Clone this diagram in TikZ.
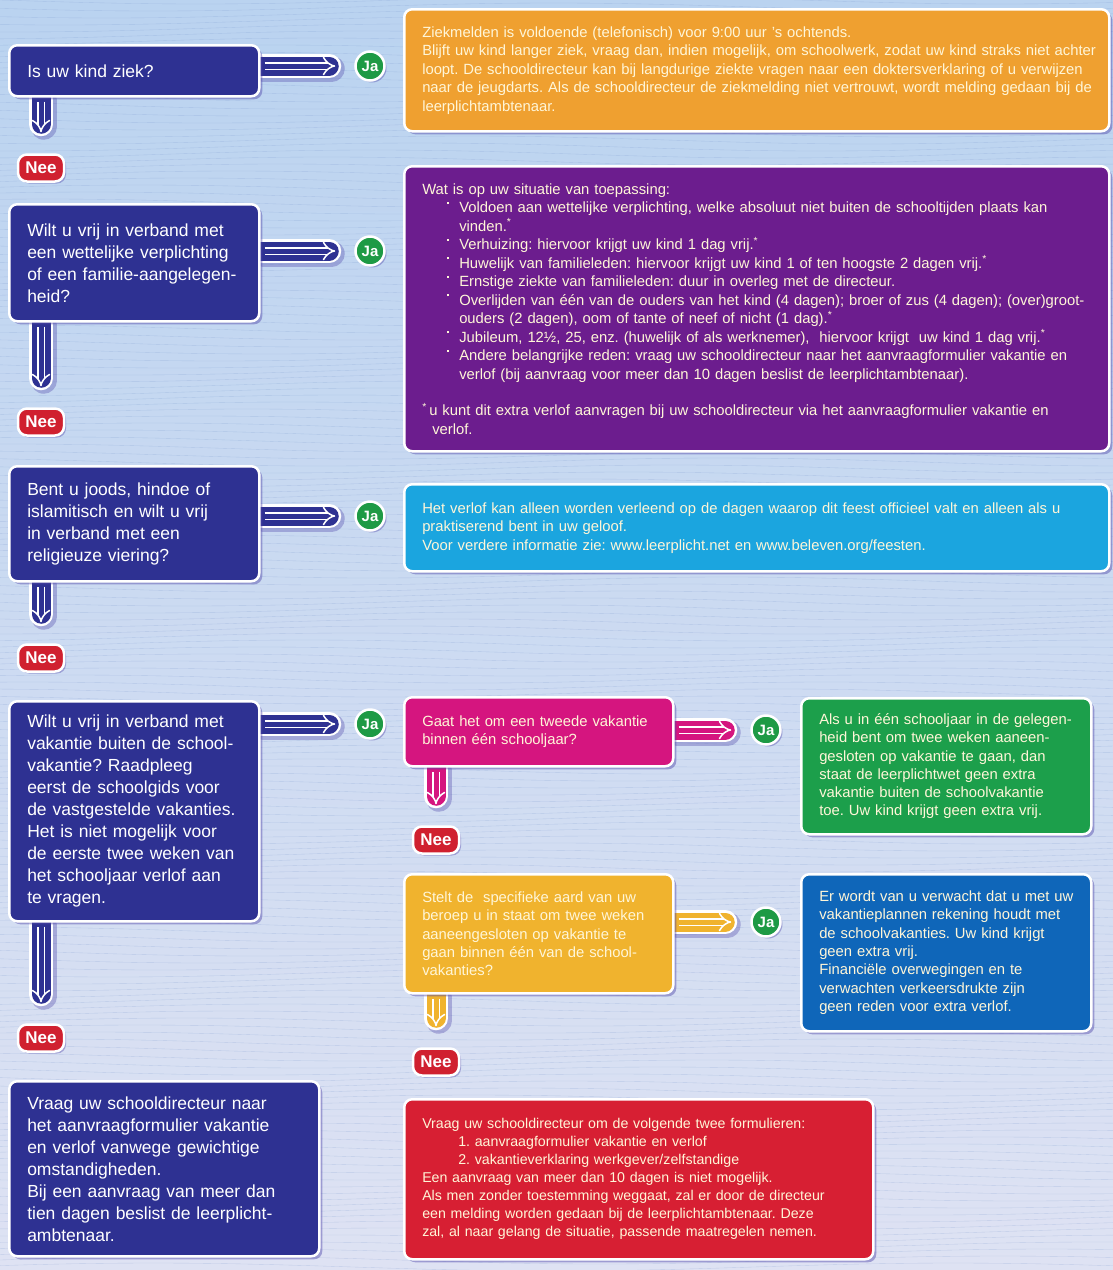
\documentclass[tikz,border=0pt]{standalone}
\usepackage{fontspec}
\setmainfont{Liberation Sans}
\usepackage{xcolor}
\usetikzlibrary{arrows.meta, calc, shadows}
\frenchspacing

\definecolor{bgtop}{RGB}{186,211,240}
\definecolor{bgbot}{RGB}{222,226,243}
\definecolor{bgline}{RGB}{120,150,205}
\definecolor{navyq}{RGB}{46,49,146}
\definecolor{oranjeq}{RGB}{239,160,48}
\definecolor{paarsq}{RGB}{108,29,142}
\definecolor{lichtblauwq}{RGB}{27,165,223}
\definecolor{rozeq}{RGB}{213,21,127}
\definecolor{groenq}{RGB}{28,159,75}
\definecolor{geelq}{RGB}{240,179,46}
\definecolor{blauwq}{RGB}{15,102,185}
\definecolor{roodq}{RGB}{215,31,51}
\definecolor{jagroen}{RGB}{30,154,69}
\definecolor{neerood}{RGB}{208,32,47}
\definecolor{tekstlicht}{RGB}{255,246,216}
\definecolor{schaduw}{RGB}{80,70,170}

\newcommand{\qfont}{\fontsize{17.5pt}{22pt}\selectfont}
\newcommand{\infofont}{\fontsize{14.8pt}{18.5pt}\selectfont}
\newcommand{\kaderfont}{\fontsize{14.8pt}{18.3pt}\selectfont}
\newcommand{\roodfont}{\fontsize{14.2pt}{18pt}\selectfont}
\newcommand{\stip}{\raisebox{1.1ex}{\rule{2.1pt}{2.1pt}}}

\pgfdeclarelayer{bg}
\pgfdeclarelayer{pipes}
\pgfsetlayers{bg,pipes,main}

\tikzset{
  kader/.style={draw=white, line width=2.5pt, rounded corners=8pt, anchor=north west,
    inner xsep=18pt, inner ysep=6pt, align=left,
    execute at begin node={\rightskip=-80pt plus 1fil\relax},
    drop shadow={shadow xshift=3pt, shadow yshift=-3pt, opacity=.45, fill=schaduw}},
  vraag/.style={kader, fill=navyq, text=white, font=\qfont},
  info/.style={kader, text=tekstlicht, font=\infofont},
  ja/.style={circle, draw=white, line width=2.5pt, fill=jagroen, text=white,
    minimum size=29pt, inner sep=0pt, font=\fontsize{15pt}{15pt}\selectfont\bfseries,
    drop shadow={shadow xshift=2pt, shadow yshift=-2pt, opacity=.4, fill=schaduw}},
  nee/.style={draw=white, line width=2.5pt, rounded corners=9pt, fill=neerood, text=white,
    minimum width=46pt, minimum height=27pt, inner sep=0pt,
    font=\fontsize{17pt}{17pt}\selectfont\bfseries,
    drop shadow={shadow xshift=2pt, shadow yshift=-2pt, opacity=.4, fill=schaduw}},
  pijp/.style={draw=white, line width=2.5pt, double=#1, double distance=19pt, line cap=round,
    preaction={draw=schaduw, opacity=.35, line width=26pt, line cap=round,
      transform canvas={shift={(2.5pt,-2.5pt)}}}},
  jaarrow/.style={draw=white, line width=1.5pt, double=#1, double distance=5pt, -{Implies}},
  golf/.style={bgline, line width=.35pt, opacity=.3}
}

\begin{document}
\begin{tikzpicture}[x=1pt, y=-1pt]
  \useasboundingbox (0,0) rectangle (1113,1270);
  \begin{pgfonlayer}{bg}
    \fill[top color=bgtop, bottom color=bgbot] (0,0) rectangle (1113,1270);
    \foreach \k in {0,7,...,1270}
      \draw[golf] plot[domain=0:1113, samples=30, smooth] (\x, {\k+4*sin(0.45*\x+3*\k)});
  \end{pgfonlayer}

  % vragen links
  \node[vraag, minimum width=250pt, minimum height=51pt, text width=214pt] (ziek) at (8,44)
    {Is uw kind ziek?};
  \node[vraag, minimum width=250pt, minimum height=117pt, text width=214pt] (wettelijk) at (8,203)
    {Wilt u vrij in verband met\\ een wettelijke verplichting\\ of een familie-aangelegen-\\ heid?};
  \node[vraag, minimum width=250pt, minimum height=115pt, text width=214pt] (religie) at (8,465)
    {Bent u joods, hindoe of\\ islamitisch en wilt u vrij\\ in verband met een\\ religieuze viering?};
  \node[vraag, minimum width=250pt, minimum height=220pt, text width=214pt] (vakantie) at (8,700)
    {Wilt u vrij in verband met\\ vakantie buiten de school-\\ vakantie? Raadpleeg\\ eerst de schoolgids voor\\
     de vastgestelde vakanties.\\ Het is niet mogelijk voor\\ de eerste twee weken van\\
     het schooljaar verlof aan\\ te vragen.};
  \node[vraag, minimum width=310pt, minimum height=175pt, text width=274pt] (aanvraag) at (8,1080)
    {Vraag uw schooldirecteur naar\\ het aanvraagformulier vakantie\\ en verlof vanwege gewichtige\\
     omstandigheden.\\ Bij een aanvraag van meer dan\\ tien dagen beslist de leerplicht-\\ ambtenaar.};

  % antwoorden rechts
  \node[info, fill=oranjeq, minimum width=705pt, minimum height=122pt, text width=669pt] (infoziek) at (403,8)
    {Ziekmelden is voldoende (telefonisch) voor 9:00 uur 's ochtends.\\
     Blijft uw kind langer ziek, vraag dan, indien mogelijk, om schoolwerk, zodat uw kind straks niet achter\\
     loopt. De schooldirecteur kan bij langdurige ziekte vragen naar een doktersverklaring of u verwijzen\\
     naar de jeugdarts. Als de schooldirecteur de ziekmelding niet vertrouwt, wordt melding gedaan bij de\\
     leerplichtambtenaar.};
  \node[info, fill=paarsq, minimum width=705pt, minimum height=285pt, text width=669pt] (infowet) at (403,165)
    {Wat is op uw situatie van toepassing:\\
     \hspace*{25pt}\makebox[12pt][l]{\stip}Voldoen aan wettelijke verplichting, welke absoluut niet buiten de schooltijden plaats kan\\
     \hspace*{37pt}vinden.\textsuperscript{*}\\
     \hspace*{25pt}\makebox[12pt][l]{\stip}Verhuizing: hiervoor krijgt uw kind 1 dag vrij.\textsuperscript{*}\\
     \hspace*{25pt}\makebox[12pt][l]{\stip}Huwelijk van familieleden: hiervoor krijgt uw kind 1 of ten hoogste 2 dagen vrij.\textsuperscript{*}\\
     \hspace*{25pt}\makebox[12pt][l]{\stip}Ernstige ziekte van familieleden: duur in overleg met de directeur.\\
     \hspace*{25pt}\makebox[12pt][l]{\stip}Overlijden van één van de ouders van het kind (4 dagen); broer of zus (4 dagen); (over)groot-\\
     \hspace*{37pt}ouders (2 dagen), oom of tante of neef of nicht (1 dag).\textsuperscript{*}\\
     \hspace*{25pt}\makebox[12pt][l]{\stip}Jubileum, 12½, 25, enz. (huwelijk of als werknemer),\ \ hiervoor krijgt\ \ uw kind 1 dag vrij.\textsuperscript{*}\\
     \hspace*{25pt}\makebox[12pt][l]{\stip}Andere belangrijke reden: vraag uw schooldirecteur naar het aanvraagformulier vakantie en\\
     \hspace*{37pt}verlof (bij aanvraag voor meer dan 10 dagen beslist de leerplichtambtenaar).\\[18pt]
     \textsuperscript{*}\,u kunt dit extra verlof aanvragen bij uw schooldirecteur via het aanvraagformulier vakantie en\\
     \hspace*{10pt}verlof.};
  \node[info, fill=lichtblauwq, minimum width=705pt, minimum height=87pt, text width=669pt] (inforeligie) at (403,483)
    {Het verlof kan alleen worden verleend op de dagen waarop dit feest officieel valt en alleen als u\\
     praktiserend bent in uw geloof.\\
     Voor verdere informatie zie: www.leerplicht.net en www.beleven.org/feesten.};
  \node[info, fill=rozeq, font=\kaderfont, minimum width=269pt, minimum height=69pt, text width=233pt] (tweede) at (403,696)
    {Gaat het om een tweede vakantie\\ binnen één schooljaar?};
  \node[info, fill=groenq, font=\kaderfont, minimum width=290pt, minimum height=136pt, text width=254pt] (geenextra) at (800,697)
    {Als u in één schooljaar in de gelegen-\\ heid bent om twee weken aaneen-\\ gesloten op vakantie te gaan, dan\\
     staat de leerplichtwet geen extra\\ vakantie buiten de schoolvakantie\\ toe. Uw kind krijgt geen extra vrij.};
  \node[info, fill=geelq, font=\kaderfont, minimum width=269pt, minimum height=119pt, text width=233pt] (beroep) at (403,873)
    {Stelt de\ \ specifieke aard van uw\\ beroep u in staat om twee weken\\ aaneengesloten op vakantie te\\
     gaan binnen één van de school-\\ vakanties?};
  \node[info, fill=blauwq, font=\kaderfont, minimum width=290pt, minimum height=157pt, text width=254pt] (rekening) at (800,873)
    {Er wordt van u verwacht dat u met uw\\ vakantieplannen rekening houdt met\\ de schoolvakanties. Uw kind krijgt\\
     geen extra vrij.\\ Financiële overwegingen en te\\ verwachten verkeersdrukte zijn\\ geen reden voor extra verlof.};
  \node[info, fill=roodq, font=\roodfont, minimum width=469pt, minimum height=160pt, text width=433pt] (formulieren) at (403,1098)
    {Vraag uw schooldirecteur om de volgende twee formulieren:\\
     \hspace*{36pt}1. aanvraagformulier vakantie en verlof\\
     \hspace*{36pt}2. vakantieverklaring werkgever/zelfstandige\\
     Een aanvraag van meer dan 10 dagen is niet mogelijk.\\
     Als men zonder toestemming weggaat, zal er door de directeur\\
     een melding worden gedaan bij de leerplichtambtenaar. Deze\\
     zal, al naar gelang de situatie, passende maatregelen nemen.};

  % ja / nee
  \node[ja] (ja1) at (370,66) {Ja};
  \node[ja] (ja2) at (370,251) {Ja};
  \node[ja] (ja3) at (370,516) {Ja};
  \node[ja] (ja4) at (370,724) {Ja};
  \node[ja] (ja5) at (766,730) {Ja};
  \node[ja] (ja6) at (766,922) {Ja};
  \node[nee] (nee1) at (41,168) {Nee};
  \node[nee] (nee2) at (41,422) {Nee};
  \node[nee] (nee3) at (41,658) {Nee};
  \node[nee] (nee4) at (41,1038) {Nee};
  \node[nee] (nee5) at (436,840) {Nee};
  \node[nee] (nee6) at (436,1062) {Nee};

  \begin{pgfonlayer}{pipes}
    \draw[pijp=navyq] (ziek.east |- ja1) -- ($(ja1.west)+(-25,0)$);
    \draw[pijp=navyq] (wettelijk.east |- ja2) -- ($(ja2.west)+(-25,0)$);
    \draw[pijp=navyq] (religie.east |- ja3) -- ($(ja3.west)+(-25,0)$);
    \draw[pijp=navyq] (vakantie.east |- ja4) -- ($(ja4.west)+(-25,0)$);
    \draw[pijp=rozeq] (tweede.east |- ja5) -- ($(ja5.west)+(-25,0)$);
    \draw[pijp=geelq] (beroep.east |- ja6) -- ($(ja6.west)+(-25,0)$);
    \draw[pijp=navyq] (ziek.south -| nee1) -- ($(nee1.north)+(0,-29)$);
    \draw[pijp=navyq] (wettelijk.south -| nee2) -- ($(nee2.north)+(0,-29)$);
    \draw[pijp=navyq] (religie.south -| nee3) -- ($(nee3.north)+(0,-29)$);
    \draw[pijp=navyq] (vakantie.south -| nee4) -- ($(nee4.north)+(0,-29)$);
    \draw[pijp=rozeq] (tweede.south -| nee5) -- ($(nee5.north)+(0,-29)$);
    \draw[pijp=geelq] (beroep.south -| nee6) -- ($(nee6.north)+(0,-29)$);
  \end{pgfonlayer}

  \draw[jaarrow=navyq] ($(ziek.east |- ja1)+(4,0)$) -- ($(ja1.west)+(-19,0)$);
  \draw[jaarrow=navyq] ($(wettelijk.east |- ja2)+(4,0)$) -- ($(ja2.west)+(-19,0)$);
  \draw[jaarrow=navyq] ($(religie.east |- ja3)+(4,0)$) -- ($(ja3.west)+(-19,0)$);
  \draw[jaarrow=navyq] ($(vakantie.east |- ja4)+(4,0)$) -- ($(ja4.west)+(-19,0)$);
  \draw[jaarrow=rozeq] ($(tweede.east |- ja5)+(4,0)$) -- ($(ja5.west)+(-19,0)$);
  \draw[jaarrow=geelq] ($(beroep.east |- ja6)+(4,0)$) -- ($(ja6.west)+(-19,0)$);
  \draw[jaarrow=navyq] ($(ziek.south -| nee1)+(0,4)$) -- ($(nee1.north)+(0,-21)$);
  \draw[jaarrow=navyq] ($(wettelijk.south -| nee2)+(0,4)$) -- ($(nee2.north)+(0,-21)$);
  \draw[jaarrow=navyq] ($(religie.south -| nee3)+(0,4)$) -- ($(nee3.north)+(0,-21)$);
  \draw[jaarrow=navyq] ($(vakantie.south -| nee4)+(0,4)$) -- ($(nee4.north)+(0,-21)$);
  \draw[jaarrow=rozeq] ($(tweede.south -| nee5)+(0,4)$) -- ($(nee5.north)+(0,-21)$);
  \draw[jaarrow=geelq] ($(beroep.south -| nee6)+(0,4)$) -- ($(nee6.north)+(0,-21)$);
\end{tikzpicture}
\end{document}
